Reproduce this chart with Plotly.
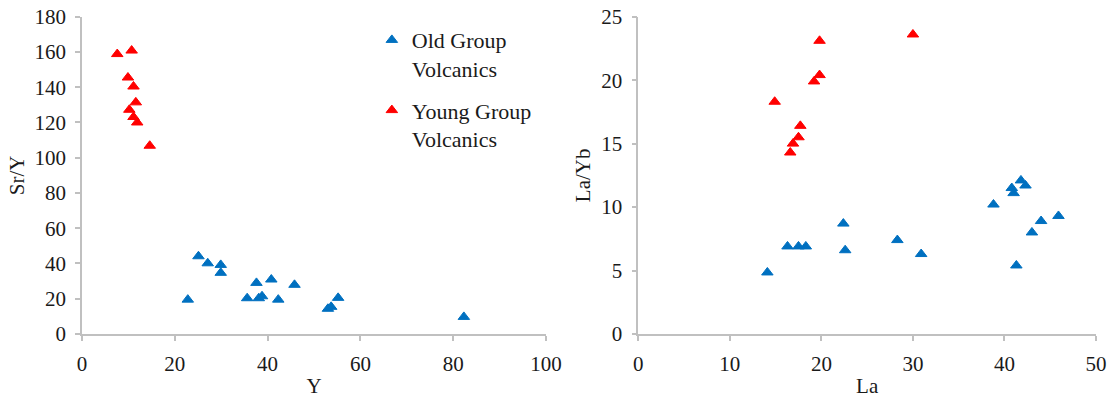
import plotly.graph_objects as go

# Sr/Y vs Y
old_y = [22.8, 25.1, 27.1, 29.9, 29.9, 35.6, 37.6, 38.1, 38.8, 40.8, 42.3, 45.8, 53.0, 53.7, 55.2, 82.3]
old_sry = [19.5, 44.1, 40.1, 39.2, 34.7, 20.3, 29.0, 20.3, 21.4, 30.9, 19.5, 27.9, 14.3, 15.4, 20.5, 9.7]
young_y = [7.6, 10.7, 9.9, 11.1, 11.6, 10.2, 11.1, 11.9, 14.6]
young_sry = [158.8, 160.8, 145.5, 140.4, 131.4, 127.2, 123.1, 120.0, 106.8]

# La/Yb vs La
old_la = [14.1, 16.3, 17.5, 18.3, 22.4, 22.6, 28.3, 30.9, 38.8, 40.8, 41.0, 41.8, 42.3, 41.3, 43.0, 44.0, 45.9]
old_layb = [4.85, 6.9, 6.9, 6.9, 8.7, 6.6, 7.4, 6.3, 10.2, 11.5, 11.1, 12.1, 11.7, 5.4, 8.0, 8.9, 9.3]
young_la = [19.8, 19.8, 19.2, 14.9, 17.7, 17.5, 16.9, 16.6, 30.0]
young_layb = [23.1, 20.4, 19.9, 18.3, 16.4, 15.5, 15.0, 14.3, 23.6]

BLUE = "#0070C0"
RED = "#FF0000"
FONT = "Liberation Serif, Times New Roman, serif"
AXIS_GRAY = "#C0C0C0"
TEXT = "#1a1a1a"

marker_old = dict(symbol="triangle-up", size=10, color=BLUE, line=dict(width=1, color=BLUE))
marker_young = dict(symbol="triangle-up", size=10, color=RED, line=dict(width=1, color=RED))

fig = go.Figure()
fig.add_trace(go.Scatter(x=old_y, y=old_sry, mode="markers", marker=marker_old,
                         name="Old Group<br>Volcanics", legendgroup="old",
                         xaxis="x", yaxis="y"))
fig.add_trace(go.Scatter(x=young_y, y=young_sry, mode="markers", marker=marker_young,
                         name="Young Group<br>Volcanics", legendgroup="young",
                         xaxis="x", yaxis="y"))
fig.add_trace(go.Scatter(x=old_la, y=old_layb, mode="markers", marker=marker_old,
                         showlegend=False, xaxis="x2", yaxis="y2"))
fig.add_trace(go.Scatter(x=young_la, y=young_layb, mode="markers", marker=marker_young,
                         showlegend=False, xaxis="x2", yaxis="y2"))

W, H = 1110, 398


def axis(**kw):
    base = dict(
        showgrid=False, zeroline=False, showline=True, linecolor=AXIS_GRAY, linewidth=1.5,
        ticks="outside", ticklen=5, tickwidth=1.5, tickcolor=AXIS_GRAY,
        ticklabelstandoff=5,
        tickfont=dict(family=FONT, size=21, color=TEXT),
        title_font=dict(family=FONT, size=21, color=TEXT),
        automargin=False, fixedrange=True,
    )
    base.update(kw)
    return base


y_dom = [(H - 334) / H, (H - 16.7) / H]

fig.update_layout(
    template="none",
    width=W, height=H,
    margin=dict(l=0, r=0, t=0, b=0),
    font=dict(family=FONT, size=21, color=TEXT),
    paper_bgcolor="white", plot_bgcolor="white",
    showlegend=True,
    legend=dict(x=0.335, y=0.952, xanchor="left", yanchor="top",
                font=dict(family=FONT, size=22, color=TEXT),
                valign="top", tracegroupgap=10, bgcolor="rgba(0,0,0,0)"),
    xaxis=axis(domain=[82 / W, 546 / W], range=[0, 100], tick0=0, dtick=20,
               title=dict(text="Y", standoff=3), anchor="y"),
    yaxis=axis(domain=y_dom, range=[0, 180], tick0=0, dtick=20,
               title=dict(text="Sr/Y", standoff=4), anchor="x"),
    xaxis2=axis(domain=[638.3 / W, 1096 / W], range=[0, 50], tick0=0, dtick=10,
                title=dict(text="La", standoff=3), anchor="y2"),
    yaxis2=axis(domain=y_dom, range=[0, 25], tick0=0, dtick=5,
                title=dict(text="La/Yb", standoff=5), anchor="x2"),
)

fig.write_html("out.html")
